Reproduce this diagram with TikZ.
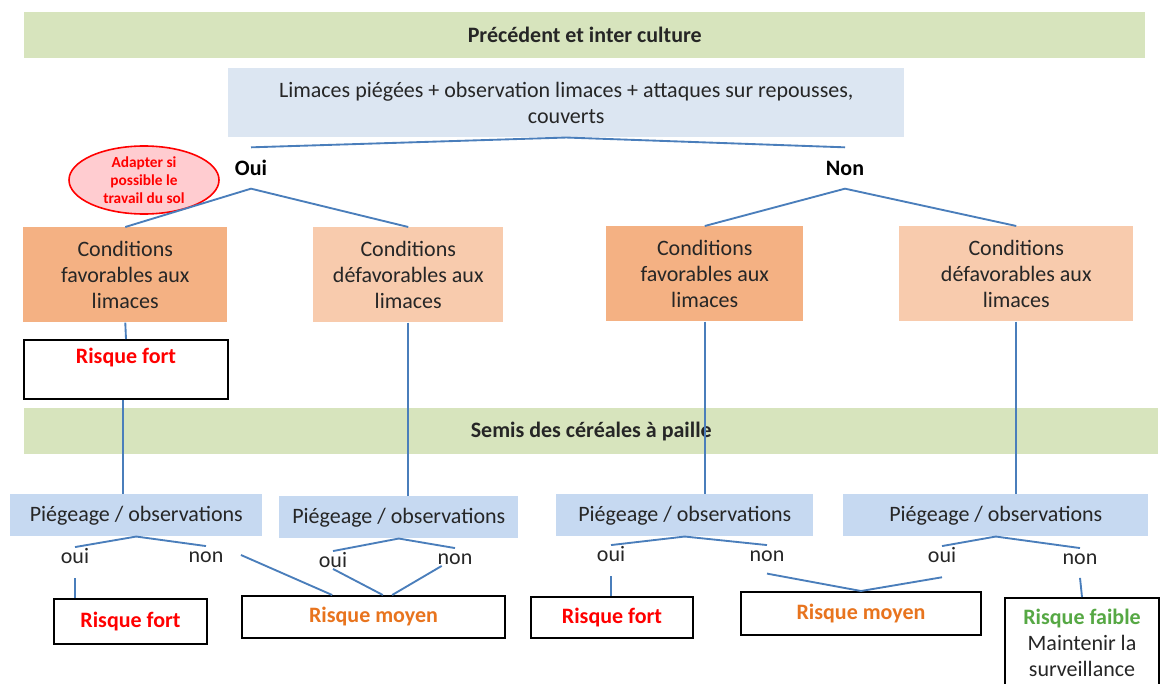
\documentclass[tikz,border=0pt]{standalone}
\usepackage{fontspec}
\setmainfont{Carlito}
\usetikzlibrary{shapes.geometric}
\definecolor{vertbande}{HTML}{D7E4BD}
\definecolor{bleuclair}{HTML}{DCE6F2}
\definecolor{bleupiege}{HTML}{C6D9F1}
\definecolor{orangefav}{HTML}{F4B183}
\definecolor{orangedef}{HTML}{F8CBAD}
\definecolor{rosefond}{HTML}{FFCCD0}
\definecolor{lien}{HTML}{4A7EBB}
\definecolor{texte}{HTML}{262626}
\definecolor{rougerisque}{HTML}{FF0000}
\definecolor{orangerisque}{HTML}{E8741E}
\definecolor{vertrisque}{HTML}{56A844}
\tikzset{
  box/.style = {align=center, inner sep=2pt, anchor=north west, text=texte, font=\fontsize{16.5}{19.5}\selectfont},
  sz/.style 2 args = {minimum width=#1*0.75pt, minimum height=#2*0.75pt},
  box_g/.style = {box, fill=vertbande, font=\fontsize{16.5}{19.5}\selectfont\bfseries},
  box_b/.style = {box, fill=bleuclair},
  box_p/.style = {box, fill=bleupiege},
  box_o/.style = {box, fill=orangefav},
  box_lo/.style = {box, fill=orangedef},
  box_r/.style = {box, draw=black, line width=1.5pt, fill=white},
  yn/.style = {inner sep=1pt, text height=11pt, text depth=0pt, text=texte, font=\fontsize{16.5}{19.5}\selectfont},
  yn_b/.style = {yn, outer sep=9pt, text=black, font=\fontsize{16.5}{19.5}\selectfont\bfseries},
  adapt/.style = {ellipse, draw=red, line width=1.2pt, fill=rosefond, text=red, align=center,
    inner xsep=0pt, inner ysep=0pt, font=\fontsize{11.5}{13.5}\selectfont\bfseries},
  link/.style = {draw=lien, line width=1.4pt},
}
\newcommand{\rfort}[1]{\textcolor{rougerisque}{\textbf{#1}}}
\newcommand{\rmoy}[1]{\textcolor{orangerisque}{\textbf{#1}}}
\newcommand{\rfaible}[1]{\textcolor{vertrisque}{\textbf{#1}}}

\begin{document}
\begin{tikzpicture}[x=0.75pt, y=-0.75pt]
  \useasboundingbox (0,0) rectangle (1162,684);

  % avant semis
  \node [box_g, sz={1121}{46}] (prec) at (24,12) {Précédent et inter culture};
  \node [box_b, sz={676}{69}] (lim) at (228,68)
    {Limaces piégées + observation limaces + attaques sur repousses,\\couverts};
  \node [yn_b] (oui) at (251,168) {Oui};
  \node [yn_b] (non) at (845,168) {Non};
  \node [adapt, sz={150}{68}] (adapt) at (144,180) {Adapter si\\possible le\\travail du sol};

  \node [box_o, sz={204}{95}] (cf1) at (23,227) {Conditions\\favorables aux\\limaces};
  \node [box_lo, sz={190}{95}] (cd1) at (313,227) {Conditions\\défavorables aux\\limaces};
  \node [box_o, sz={197}{95}] (cf2) at (606,226) {Conditions\\favorables aux\\limaces};
  \node [box_lo, sz={234}{95}] (cd2) at (899,226) {Conditions\\défavorables aux\\limaces};

  \node [box_r, sz={204}{59},
    label={[anchor=north, inner sep=0pt, yshift=-6.5pt, font=\fontsize{16.5}{19.5}\selectfont]north:\rfort{Risque fort}}]
    (rf0) at (23,339) {};

  % semis
  \node [box_g, sz={1134}{46}] (semis) at (24,408) {Semis des céréales à paille};

  \node [box_p, sz={252}{42}] (p1) at (10,494) {Piégeage / observations};
  \node [box_p, sz={239}{42}] (p2) at (279,496) {Piégeage / observations};
  \node [box_p, sz={257}{42}] (p3) at (556,494) {Piégeage / observations};
  \node [box_p, sz={305}{42}] (p4) at (843,494) {Piégeage / observations};

  \node [yn] (o1) at (75,556) {oui};
  \node [yn] (n1) at (206,555) {non};
  \node [yn] (o2) at (333,560) {oui};
  \node [yn] (n2) at (455,557) {non};
  \node [yn] (o3) at (611,554) {oui};
  \node [yn] (n3) at (767,554) {non};
  \node [yn] (o4) at (942,555) {oui};
  \node [yn] (n4) at (1080,557) {non};

  \node [box_r, sz={153}{45}] (rf1) at (53,598) {\rfort{Risque fort}};
  \node [box_r, sz={263}{42}] (rm1) at (241,595) {\rmoy{Risque moyen}};
  \node [box_r, sz={162}{41}] (rf2) at (530,596) {\rfort{Risque fort}};
  \node [box_r, sz={240}{43}] (rm2) at (740,591) {\rmoy{Risque moyen}};
  \node [box_r, sz={154}{90}] (rfa) at (1004,597)
    {\rfaible{Risque faible}\\Maintenir la\\surveillance};

  % liaisons
  \draw [link] (oui.north) -- (lim.south) -- (non.north);
  \draw [link] (cf1.north) -- (oui.south) -- (cd1.north);
  \draw [link] (cf2.north) -- (non.south) -- (cd2.north);
  \draw [link] (cf1.south) -- (rf0.north);
  \draw [link] ([xshift=-2pt]rf0.south) -- ([xshift=-2pt]rf0.south |- p1.north);
  \draw [link] (cd1.south) -- (cd1.south |- p2.north);
  \draw [link] (cf2.south) -- (cf2.south |- p3.north);
  \draw [link] (cd2.south) -- (cd2.south |- p4.north);

  \draw [link] (o1.north) -- (p1.south) -- (n1.north);
  \draw [link] (o2.north) -- (p2.south) -- (n2.north);
  \draw [link] (o3.north) -- (p3.south) -- (n3.north);
  \draw [link] (o4.north) -- (p4.south) -- (n4.north);

  \draw [link] ([yshift=-10pt]o1.south) -- (o1.south |- rf1.north);
  \draw [link] ([xshift=12pt]n1.east) -- ([xshift=-31pt]rm1.north);
  \draw [link] (o2.south) -- ([xshift=7pt]rm1.north);
  \draw [link] ([xshift=-10pt]n2.south) -- ([xshift=14pt]rm1.north);
  \draw [link] ([yshift=-10pt]o3.south) -- (o3.south |- rf2.north);
  \draw [link] ([yshift=-8pt]n3.south) -- (rm2.north) -- ([yshift=-10pt]o4.south);
  \draw [link] ([yshift=-9pt]n4.south) -- (rfa.north);
\end{tikzpicture}
\end{document}
